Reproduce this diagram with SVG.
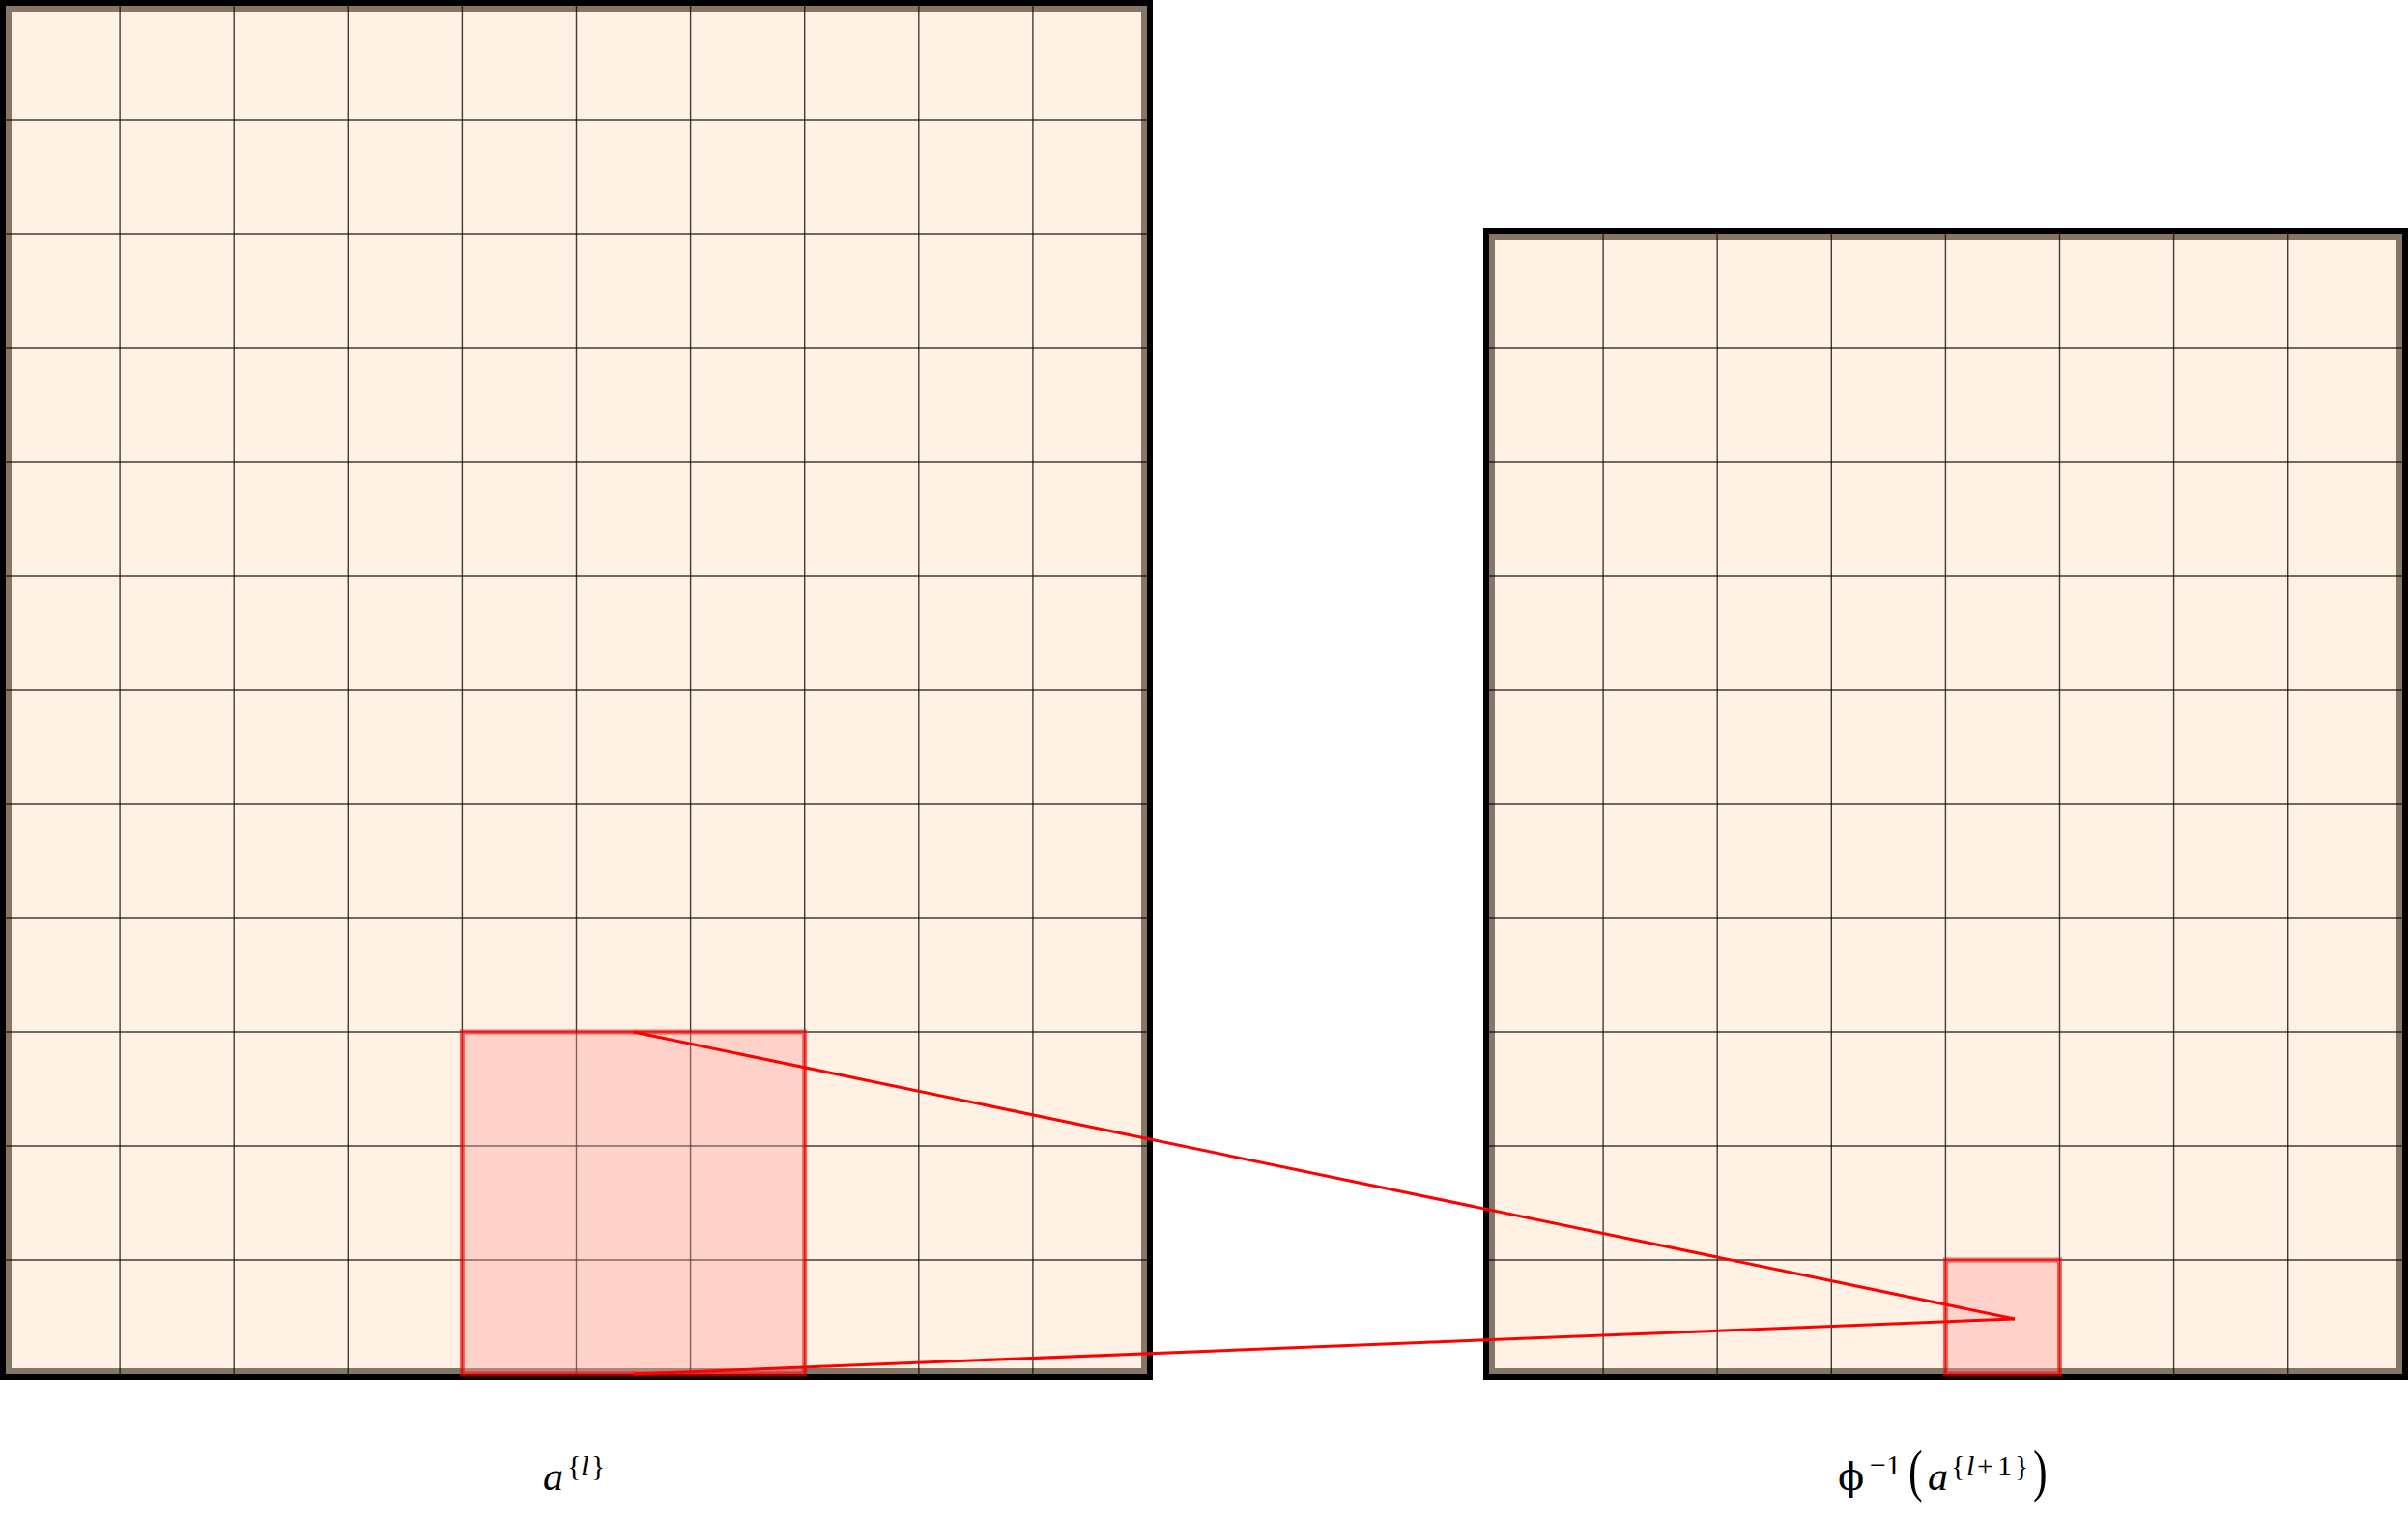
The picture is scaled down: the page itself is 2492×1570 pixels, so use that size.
<svg xmlns="http://www.w3.org/2000/svg" width="2492" height="1570" viewBox="0 0 2492 1570">
<style>
.fill{fill:#fff1e3;stroke:none}
.brown{fill:none;stroke:#857666;stroke-width:6}
.black{fill:none;stroke:#000;stroke-width:6}
.grid line{stroke:#000;stroke-width:1.4;stroke-opacity:0.75}
.hl{fill:#ff9a9a;fill-opacity:0.36;stroke:#ff0000;stroke-opacity:0.6;stroke-width:5}
.conn line{stroke:#ff0000;stroke-width:3}
text{font-family:"Liberation Serif","DejaVu Serif",serif;fill:#000}
</style>
<rect width="2492" height="1570" fill="#fff"/>
<g id="layer-l">
<rect class="fill" x="6" y="6" width="1181" height="1416"/>
<rect class="brown" x="9" y="9" width="1175" height="1410"/>
<g class="grid">
<line x1="124.1" y1="6" x2="124.1" y2="1422"/>
<line x1="242.2" y1="6" x2="242.2" y2="1422"/>
<line x1="360.3" y1="6" x2="360.3" y2="1422"/>
<line x1="478.4" y1="6" x2="478.4" y2="1422"/>
<line x1="596.5" y1="6" x2="596.5" y2="1422"/>
<line x1="714.6" y1="6" x2="714.6" y2="1422"/>
<line x1="832.7" y1="6" x2="832.7" y2="1422"/>
<line x1="950.8" y1="6" x2="950.8" y2="1422"/>
<line x1="1068.9" y1="6" x2="1068.9" y2="1422"/>
<line x1="6" y1="124" x2="1187" y2="124"/>
<line x1="6" y1="242" x2="1187" y2="242"/>
<line x1="6" y1="360" x2="1187" y2="360"/>
<line x1="6" y1="478" x2="1187" y2="478"/>
<line x1="6" y1="596" x2="1187" y2="596"/>
<line x1="6" y1="714" x2="1187" y2="714"/>
<line x1="6" y1="832" x2="1187" y2="832"/>
<line x1="6" y1="950" x2="1187" y2="950"/>
<line x1="6" y1="1068" x2="1187" y2="1068"/>
<line x1="6" y1="1186" x2="1187" y2="1186"/>
<line x1="6" y1="1304" x2="1187" y2="1304"/>
</g>
<rect class="black" x="3" y="3" width="1187" height="1422"/>
</g>
<g id="layer-r">
<rect class="fill" x="1541" y="242" width="945" height="1180"/>
<rect class="brown" x="1544" y="245" width="939" height="1174"/>
<g class="grid">
<line x1="1659.1" y1="242" x2="1659.1" y2="1422"/>
<line x1="1777.2" y1="242" x2="1777.2" y2="1422"/>
<line x1="1895.3" y1="242" x2="1895.3" y2="1422"/>
<line x1="2013.4" y1="242" x2="2013.4" y2="1422"/>
<line x1="2131.5" y1="242" x2="2131.5" y2="1422"/>
<line x1="2249.6" y1="242" x2="2249.6" y2="1422"/>
<line x1="2367.7" y1="242" x2="2367.7" y2="1422"/>
<line x1="1541" y1="360" x2="2486" y2="360"/>
<line x1="1541" y1="478" x2="2486" y2="478"/>
<line x1="1541" y1="596" x2="2486" y2="596"/>
<line x1="1541" y1="714" x2="2486" y2="714"/>
<line x1="1541" y1="832" x2="2486" y2="832"/>
<line x1="1541" y1="950" x2="2486" y2="950"/>
<line x1="1541" y1="1068" x2="2486" y2="1068"/>
<line x1="1541" y1="1186" x2="2486" y2="1186"/>
<line x1="1541" y1="1304" x2="2486" y2="1304"/>
</g>
<rect class="black" x="1538" y="239" width="951" height="1186"/>
</g>
<g id="field-l">
<rect class="hl" x="478.4" y="1068" width="354.3" height="354"/>
</g>
<g id="field-r">
<rect class="hl" x="2013.4" y="1304" width="118.1" height="118"/>
</g>
<g class="conn" id="connectors">
<line x1="655.5" y1="1068" x2="2085" y2="1365"/>
<line x1="655.5" y1="1422" x2="2085" y2="1365"/>
</g>
<g id="label-l">
<text x="562" y="1542" font-size="42" font-style="italic">a</text>
<text x="587" y="1527" font-size="30">{<tspan x="601" font-style="italic">l</tspan><tspan x="612">}</tspan></text>
</g>
<g id="label-r">
<text x="1902" y="1542" font-size="40" style="font-family:'DejaVu Serif',serif">ϕ</text>
<text x="1935" y="1526" font-size="30">−1</text>
<text transform="translate(1975,1542) scale(1,1.35)" font-size="44">(</text>
<text x="1995" y="1542" font-size="42" font-style="italic">a</text>
<text x="2019" y="1527" font-size="30">{<tspan x="2035" font-style="italic">l</tspan><tspan x="2046">+</tspan><tspan x="2067">1</tspan><tspan x="2085">}</tspan></text>
<text transform="translate(2104,1542) scale(1,1.35)" font-size="44">)</text>
</g>
</svg>
